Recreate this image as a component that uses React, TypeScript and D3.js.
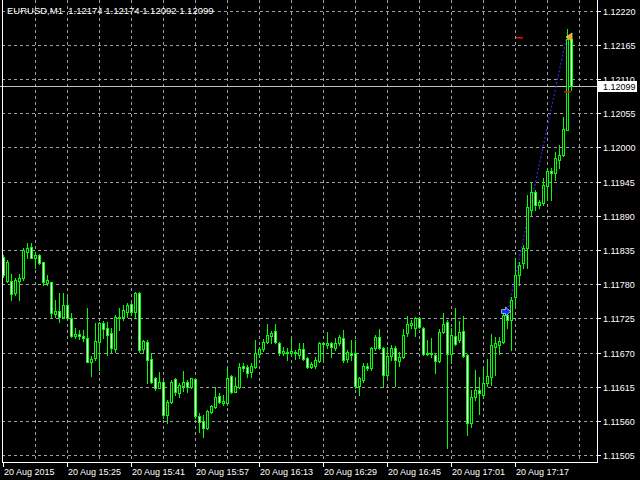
import React from "react";
import * as d3 from "d3";

// ---- data (EURUSD M1, 20 Aug 2015 15:09 .. 17:31) ----
const opens = [1.11824,1.11785,1.11785,1.11766,1.11785,1.11790,1.11832,1.11840,1.11822,1.11827,1.11816,1.11782,1.11784,1.11732,1.11737,1.11727,1.11746,1.11726,1.11697,1.11700,1.11697,1.11693,1.11655,1.11661,1.11687,1.11718,1.11710,1.11701,1.11676,1.11727,1.11727,1.11735,1.11748,1.11735,1.11766,1.11676,1.11687,1.11660,1.11629,1.11613,1.11623,1.11570,1.11590,1.11627,1.11605,1.11616,1.11623,1.11615,1.11627,1.11568,1.11560,1.11549,1.11574,1.11582,1.11600,1.11589,1.11589,1.11632,1.11607,1.11615,1.11648,1.11647,1.11639,1.11647,1.11668,1.11676,1.11687,1.11697,1.11705,1.11685,1.11669,1.11671,1.11669,1.11671,1.11666,1.11676,1.11661,1.11647,1.11648,1.11656,1.11685,1.11682,1.11685,1.11677,1.11685,1.11693,1.11660,1.11669,1.11669,1.11616,1.11626,1.11648,1.11645,1.11677,1.11695,1.11677,1.11634,1.11664,1.11677,1.11656,1.11663,1.11701,1.11714,1.11710,1.11726,1.11710,1.11668,1.11669,1.11666,1.11656,1.11703,1.11719,1.11668,1.11697,1.11690,1.11705,1.11666,1.11557,1.11598,1.11610,1.11602,1.11621,1.11631,1.11679,1.11682,1.11687,1.11730,1.11722,1.11759,1.11795,1.11814,1.11838,1.11899,1.11928,1.11907,1.11911,1.11938,1.11962,1.11959,1.11980,1.11988,1.12028,1.12174];
const highs = [1.11827,1.11819,1.11796,1.11790,1.11796,1.11838,1.11846,1.11846,1.11830,1.11829,1.11816,1.11795,1.11784,1.11755,1.11766,1.11766,1.11761,1.11734,1.11710,1.11706,1.11706,1.11742,1.11664,1.11718,1.11719,1.11721,1.11719,1.11710,1.11730,1.11742,1.11746,1.11750,1.11751,1.11767,1.11767,1.11690,1.11690,1.11669,1.11631,1.11639,1.11626,1.11594,1.11626,1.11629,1.11621,1.11640,1.11626,1.11629,1.11629,1.11573,1.11570,1.11578,1.11586,1.11615,1.11605,1.11602,1.11645,1.11634,1.11631,1.11653,1.11653,1.11650,1.11653,1.11690,1.11679,1.11692,1.11716,1.11705,1.11716,1.11687,1.11679,1.11677,1.11693,1.11674,1.11685,1.11685,1.11663,1.11655,1.11663,1.11687,1.11687,1.11703,1.11687,1.11693,1.11698,1.11706,1.11674,1.11690,1.11690,1.11631,1.11653,1.11653,1.11679,1.11698,1.11708,1.11679,1.11679,1.11682,1.11681,1.11671,1.11708,1.11729,1.11722,1.11727,1.11727,1.11711,1.11690,1.11693,1.11669,1.11708,1.11734,1.11722,1.11710,1.11742,1.11721,1.11729,1.11668,1.11610,1.11642,1.11631,1.11645,1.11660,1.11700,1.11695,1.11695,1.11734,1.11735,1.11759,1.11822,1.11816,1.11843,1.11923,1.11944,1.11932,1.11915,1.11951,1.11967,1.11967,1.11993,1.12004,1.12049,1.12191,1.12174];
const lows = [1.11792,1.11784,1.11755,1.11763,1.11755,1.11787,1.11822,1.11822,1.11806,1.11812,1.11779,1.11779,1.11727,1.11727,1.11719,1.11726,1.11726,1.11695,1.11693,1.11692,1.11689,1.11655,1.11632,1.11658,1.11642,1.11693,1.11666,1.11671,1.11671,1.11706,1.11722,1.11727,1.11730,1.11726,1.11671,1.11669,1.11621,1.11621,1.11610,1.11613,1.11565,1.11557,1.11589,1.11602,1.11598,1.11608,1.11607,1.11613,1.11565,1.11542,1.11534,1.11547,1.11573,1.11581,1.11589,1.11586,1.11586,1.11605,1.11607,1.11613,1.11640,1.11631,1.11631,1.11645,1.11663,1.11672,1.11685,1.11685,1.11685,1.11666,1.11666,1.11658,1.11666,1.11660,1.11661,1.11658,1.11645,1.11645,1.11645,1.11655,1.11658,1.11677,1.11663,1.11674,1.11682,1.11655,1.11655,1.11658,1.11613,1.11602,1.11623,1.11642,1.11642,1.11674,1.11676,1.11615,1.11631,1.11658,1.11616,1.11648,1.11661,1.11697,1.11710,1.11697,1.11710,1.11666,1.11666,1.11663,1.11637,1.11655,1.11701,1.11516,1.11653,1.11682,1.11687,1.11663,1.11537,1.11550,1.11594,1.11571,1.11598,1.11616,1.11618,1.11634,1.11668,1.11685,1.11710,1.11674,1.11746,1.11779,1.11806,1.11806,1.11891,1.11899,1.11903,1.11907,1.11915,1.11915,1.11948,1.11967,1.11986,1.12028,1.12092];
const closes = [1.11795,1.11816,1.11764,1.11787,1.11790,1.11835,1.11838,1.11822,1.11827,1.11814,1.11784,1.11787,1.11734,1.11737,1.11727,1.11746,1.11726,1.11697,1.11700,1.11697,1.11693,1.11655,1.11660,1.11689,1.11718,1.11708,1.11698,1.11677,1.11727,1.11726,1.11738,1.11746,1.11735,1.11766,1.11674,1.11689,1.11658,1.11623,1.11613,1.11623,1.11570,1.11590,1.11623,1.11607,1.11618,1.11623,1.11615,1.11629,1.11568,1.11558,1.11549,1.11576,1.11584,1.11598,1.11590,1.11592,1.11629,1.11607,1.11616,1.11647,1.11645,1.11637,1.11648,1.11669,1.11676,1.11687,1.11698,1.11701,1.11687,1.11669,1.11672,1.11669,1.11672,1.11669,1.11676,1.11660,1.11647,1.11652,1.11658,1.11685,1.11684,1.11685,1.11679,1.11685,1.11695,1.11658,1.11671,1.11666,1.11616,1.11629,1.11648,1.11645,1.11677,1.11695,1.11677,1.11634,1.11664,1.11677,1.11658,1.11663,1.11698,1.11716,1.11718,1.11726,1.11711,1.11668,1.11669,1.11668,1.11656,1.11703,1.11716,1.11668,1.11698,1.11684,1.11703,1.11664,1.11557,1.11598,1.11610,1.11605,1.11621,1.11632,1.11682,1.11685,1.11689,1.11730,1.11722,1.11755,1.11795,1.11811,1.11838,1.11904,1.11928,1.11907,1.11912,1.11940,1.11962,1.11959,1.11983,1.11988,1.12030,1.12174,1.12099];

const priceTicks = [1.12220,1.12165,1.12110,1.12055,1.12000,1.11945,1.11890,1.11835,1.11780,1.11725,1.11670,1.11615,1.11560,1.11505];
const timeLabels = ["20 Aug 2015","20 Aug 15:25","20 Aug 15:41","20 Aug 15:57","20 Aug 16:13","20 Aug 16:29","20 Aug 16:45","20 Aug 17:01","20 Aug 17:17"];
const timeLabelIndex = [0,16,32,48,64,80,96,112,128];
const gridIndex = [8,16,24,32,40,48,56,64,72,80,88,96,104,112,120,128,136,144];

const header = "EURUSD,M1  1.12174 1.12174 1.12092 1.12099";
const bidPrice = 1.12099;
const tradeOpen = { index: 125.5, price: 1.11737 };
const tradeClose = { index: 141, price: 1.12174 };
const levelMarks = [{ index: 129, price: 1.12178 }, { index: 141, price: 1.12091 }];

const W = 640, H = 480;
const plotRight = 597, plotBottom = 462, plotLeft = 2;
const FONT = "'Liberation Sans', Arial, sans-serif";
const LIME = "#00ff00";
const GRID = "#a0a0a0";
const FG = "#ffffff";

export default function App() {
  const x = d3.scaleLinear().domain([0, 142]).range([3, 571]);
  const y = d3.scaleLinear().domain([1.11505, 1.12220]).range([455.2, 10.7]);
  const py = (p: number) => Math.round(y(p));

  const candles = opens.map((o, i) => {
    const c = closes[i];
    const cx = Math.round(x(i));
    const yh = py(highs[i]);
    const yl = py(lows[i]);
    const top = py(Math.max(o, c));
    const bot = py(Math.min(o, c));
    const bear = c < o;
    return (
      <g key={i}>
        <rect x={cx} y={yh} width={1} height={Math.max(1, yl - yh + 1)} fill={LIME} />
        <rect x={cx - 1} y={top} width={3} height={Math.max(1, bot - top + 1)} fill={LIME} />
        {bot - top - 1 > 0 && (
          <rect x={cx} y={top + 1} width={1} height={bot - top - 1} fill={bear ? "#ffffff" : "#000000"} />
        )}
      </g>
    );
  });

  const ax = x(tradeOpen.index);
  const ay = y(tradeOpen.price);
  const tx = x(tradeClose.index);
  const ty = y(tradeClose.price);

  return (
    <svg width={W} height={H} style={{ position: "fixed", left: 0, top: 0, background: "#000" }}
      fontFamily={FONT}>
      <rect x={0} y={0} width={W} height={H} fill="#000" />
      {/* grid */}
      {gridIndex.map((gi) => (
        <line key={"gv" + gi} x1={Math.round(x(gi)) + 0.5} x2={Math.round(x(gi)) + 0.5} y1={0} y2={plotBottom}
          stroke={GRID} strokeDasharray="3,3" strokeWidth={1} />
      ))}
      {priceTicks.map((p) => (
        <line key={"gh" + p} x1={plotLeft} x2={plotRight} y1={py(p) + 0.5} y2={py(p) + 0.5}
          stroke={GRID} strokeDasharray="3,3" strokeWidth={1} />
      ))}
      {/* header */}
      <text x={7} y={14} fill={FG} fontSize={9.5} style={{ whiteSpace: "pre" }}>{header}</text>
      {/* bid line */}
      <line x1={0} x2={plotRight} y1={py(bidPrice) + 0.5} y2={py(bidPrice) + 0.5} stroke="#c0c0c0" strokeWidth={1} />
      {/* trade line */}
      <line x1={ax + 3} y1={ay} x2={tx - 1} y2={ty} stroke="#2a2ae0" strokeWidth={1.2} strokeDasharray="2,2" />
      {candles}
      {/* level marks */}
      {levelMarks.map((m, k) => (
        <rect key={"lm" + k} x={Math.round(x(m.index)) - 3} y={py(m.price)} width={7} height={1.5} fill="#e01010" />
      ))}
      {/* open arrow */}
      <path transform={`translate(${ax - 3.5},${Math.round(ay) + 0.5})`}
        d="M0,-2 L4,-2 L4,-4.5 L9,0 L4,4.5 L4,2 L0,2 Z" fill="#1030ff" stroke="#ffffff" strokeWidth={0.6} />
      {/* close arrow */}
      <path transform={`translate(${tx - 1},${Math.round(ty) - 2})`}
        d="M0,0 L6,-4 L6,4 Z" fill="#f0a030" stroke="#ffd070" strokeWidth={0.8} />
      {/* frame */}
      <line x1={plotLeft + 0.5} x2={plotLeft + 0.5} y1={0} y2={plotBottom + 0.5} stroke={FG} />
      <line x1={plotRight + 0.5} x2={plotRight + 0.5} y1={0} y2={plotBottom + 0.5} stroke={FG} />
      <line x1={plotLeft} x2={plotRight + 1} y1={plotBottom + 0.5} y2={plotBottom + 0.5} stroke={FG} />
      {/* price axis */}
      {priceTicks.map((p) => (
        <g key={"pt" + p}>
          <line x1={plotRight} x2={plotRight + 4} y1={py(p) + 0.5} y2={py(p) + 0.5} stroke={FG} />
          <text x={603} y={py(p) + 0.5} dy="0.35em" fill={FG} fontSize={9}>{p.toFixed(5)}</text>
        </g>
      ))}
      <rect x={598} y={py(bidPrice) - 5} width={39} height={11} fill="#ffffff" />
      <text x={603} y={py(bidPrice) + 0.5} dy="0.35em" fill="#000" fontSize={9}>{bidPrice.toFixed(5)}</text>
      {/* time axis */}
      {timeLabelIndex.map((ti, k) => (
        <g key={"tt" + ti}>
          <line x1={Math.round(x(ti)) + 0.5} x2={Math.round(x(ti)) + 0.5} y1={plotBottom} y2={plotBottom + 5} stroke={FG} />
          <text x={Math.round(x(ti)) + 1} y={475} fill={FG} fontSize={9}>{timeLabels[k]}</text>
        </g>
      ))}
    </svg>
  );
}
